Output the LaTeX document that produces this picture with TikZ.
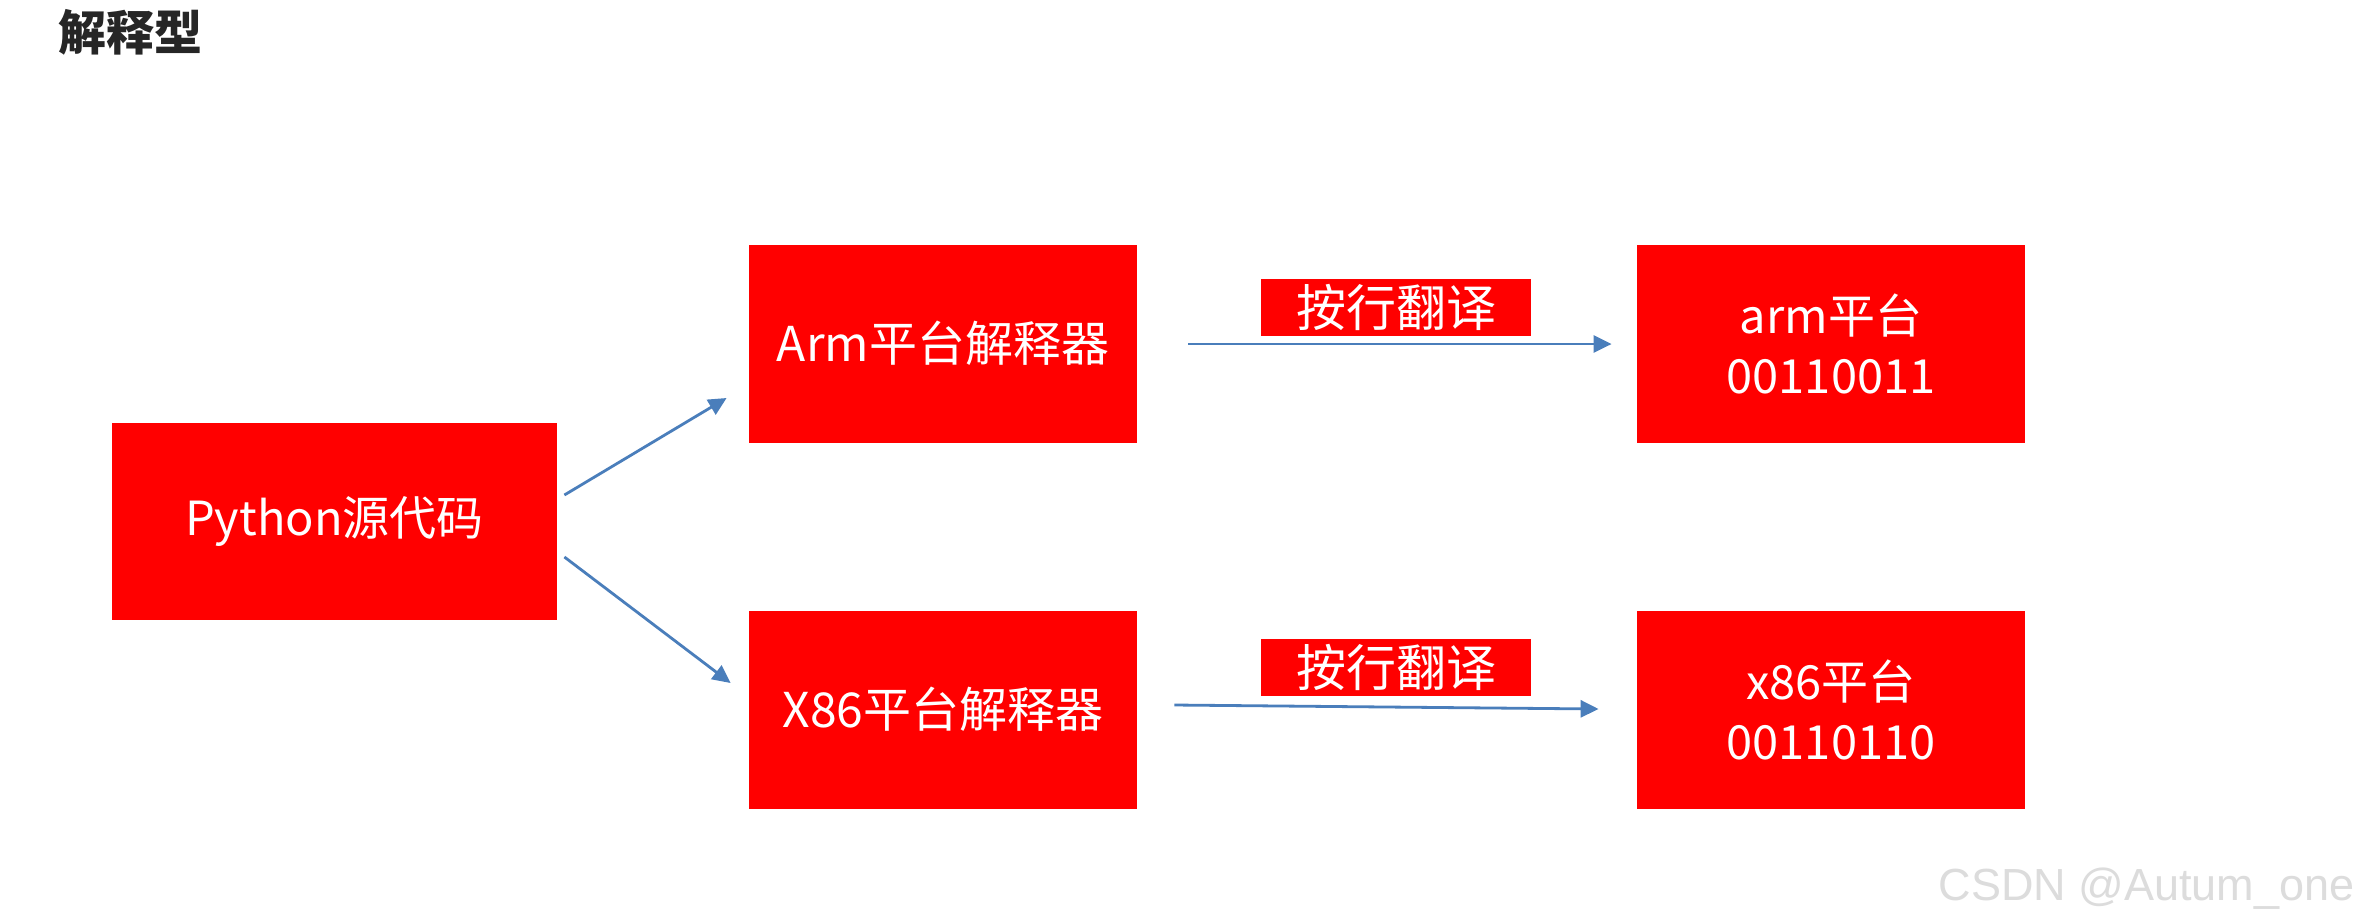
\documentclass[tikz,border=0pt]{standalone}
\usepackage{fontspec}
\setmainfont{Noto Sans CJK SC}
\newfontfamily\wmfont{Liberation Sans}
\usetikzlibrary{arrows.meta,calc}
\definecolor{boxred}{HTML}{FF0000}
\definecolor{arrblue}{HTML}{4A7EBB}
\definecolor{wmgray}{HTML}{DCDCDC}
\definecolor{titlegray}{HTML}{262626}
\begin{document}
\begin{tikzpicture}[x=0.5pt,y=-0.5pt,
  redbox/.style={fill=boxred,draw=none,inner sep=0pt,text=white,align=center,
    font=\fontsize{23.5pt}{30pt}\selectfont},
  lbl/.style={fill=boxred,draw=none,inner sep=0pt,text=white,minimum width=135pt,minimum height=28.5pt,
    font=\fontsize{25pt}{30pt}\selectfont},
  arr/.style={draw=arrblue,line width=1.4pt,-{Triangle[length=9pt,width=8.5pt]}}]
\useasboundingbox[fill=white] (0,0) rectangle (2360,923);
\node[anchor=west,font=\fontsize{24pt}{28pt}\selectfont\bfseries,text=titlegray,inner sep=0pt] (title) at (58,32) {解释型};
\node[redbox,minimum width=222.5pt,minimum height=98.5pt] (py) at (334.5,521.5) {Python源代码};
\node[redbox,minimum width=194pt,minimum height=99pt,font=\fontsize{24pt}{30pt}\selectfont] (arm) at (943,343.5) {Arm平台解释器};
\node[redbox,minimum width=194pt,minimum height=99pt,font=\fontsize{24pt}{30pt}\selectfont] (x86i) at (943,709.5) {X86平台解释器};
\node[redbox,minimum width=194pt,minimum height=99pt] (armp) at (1831,343.5) {arm平台\\00110011};
\node[redbox,minimum width=194pt,minimum height=99pt] (x86p) at (1831,709.5) {x86平台\\00110110};
\node[lbl] (l1) at (1396,307.5) {按行翻译};
\node[lbl] (l2) at (1396,667.5) {按行翻译};
\draw[arr] ($(py.east)+(7,-26.5)$) -- ($(arm.west)+(-22,54.5)$);
\draw[arr] ($(py.east)+(7,35.5)$) -- ($(x86i.west)+(-18,-26.5)$);
\draw[arr] ($(arm.east)+(51,0.5)$) -- ($(armp.west)+(-25,0.5)$);
\draw[arr] ($(x86i.east)+(37,-4.5)$) -- ($(x86p.west)+(-38,-0.5)$);
\node[anchor=base east,inner sep=0pt,text=wmgray,font=\wmfont\fontsize{22.5pt}{26pt}\selectfont] (wm) at (2355,900) {CSDN @Autum\_one};
\end{tikzpicture}
\end{document}
